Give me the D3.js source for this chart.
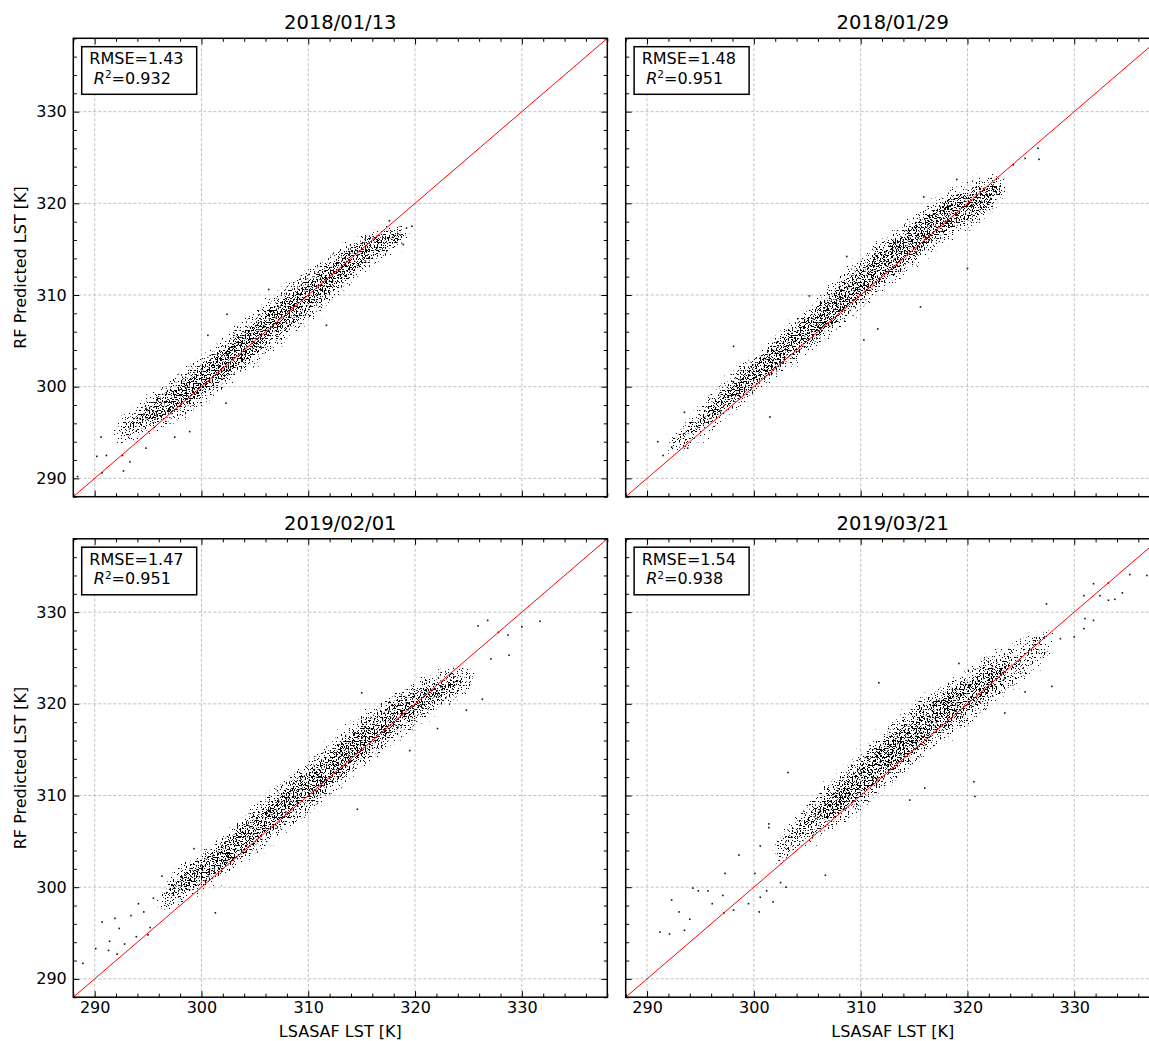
<!DOCTYPE html>
<html>
<head>
<meta charset="utf-8">
<script src="https://cdn.jsdelivr.net/npm/d3@7"></script>
<style>
  body { margin: 0; background: #fff; }
  svg { display: block; font-family: 'DejaVu Sans', sans-serif; }
</style>
</head>
<body>
<svg id="chart" width="1149" height="1041"></svg>
<script>
// ---- data ----
const titles = ['2018/01/13', '2018/01/29', '2019/02/01', '2019/03/21']
const rmse = [1.43, 1.48, 1.47, 1.54]
const r2 = [0.932, 0.951, 0.951, 0.938]
const majorTicks = [290, 300, 310, 320, 330]
const minorTicks = [288, 292, 294, 296, 298, 302, 304, 306, 308, 312, 314, 316, 318, 322, 324, 326, 328, 332, 334, 336, 338]
const domain = [288, 338]

// point cloud: band centre (mid) and half widths (outer = whole cloud, inner = dense core), per LSASAF bin
const p1X     = [292, 294, 296, 298, 300, 302, 304, 306, 308, 310, 312, 314, 316, 318, 319.5]
const p1Mid   = [295, 296.2, 297.6, 299, 300.6, 302.5, 304.4, 306.3, 308.2, 309.9, 311.8, 313.8, 315.2, 316.2, 316.8]
const p1Outer = [1.2, 2, 2.2, 2.5, 2.7, 2.7, 2.7, 3, 3, 3, 2.5, 2.5, 2, 1.3, 0.8]
const p1Inner = [0, 0.6, 1.2, 1.5, 1.6, 1.7, 1.8, 1.8, 1.8, 1.8, 1.6, 1.5, 1.2, 0.6, 0]
const p1Stray = [[288.4, 290.2], [290.2, 292.4], [290.6, 294.5], [290.7, 290.6], [291.1, 292.5], [292.6, 292.5],
  [292.7, 290.8], [293.3, 291.8], [294.8, 293.3], [297.5, 294.5], [298.9, 295.1], [300.6, 305.6], [302.4, 307.9],
  [302.3, 298.2], [306.3, 310.6], [311.7, 306.7], [318.9, 315.5], [319.7, 317.5], [319.2, 317.3], [317.6, 318.1]]

const p2X     = [292, 294, 296, 298, 300, 302, 304, 306, 308, 310, 312, 314, 316, 318, 320, 322, 323.5]
const p2Mid   = [293.2, 295, 297.2, 299.4, 301.3, 303.3, 305.1, 307.2, 309.2, 311.3, 313.2, 315, 316.9, 318.7, 319.7, 320.7, 322]
const p2Outer = [1, 1.5, 2, 2.3, 2, 2.2, 2.5, 2.5, 2.8, 2.9, 2.8, 2.9, 2.7, 2.7, 2.5, 2.5, 1]
const p2Inner = [0, 0.3, 0.8, 1.2, 1.3, 1.5, 1.6, 1.6, 1.7, 1.8, 1.8, 1.8, 1.7, 1.7, 1.6, 1.2, 0]
const p2Stray = [[291, 294], [291.5, 292.5], [292.3, 293.4], [293.5, 297.2], [293.8, 293.3], [298.1, 304.4],
  [301.5, 296.7], [305.2, 309.9], [308.7, 314.2], [310.3, 305.1], [311.6, 306.3], [315.6, 308.7], [315.9, 320.7],
  [319, 322.6], [320, 312.9], [324.3, 324.2], [325.4, 324.9], [326.6, 326], [326.7, 324.8]]

const p3X     = [296, 298, 300, 302, 304, 306, 308, 310, 312, 314, 316, 318, 320, 322, 324, 325.5]
const p3Mid   = [298.2, 300.5, 301.5, 303.4, 305.2, 307.2, 309.1, 310.9, 312.7, 314.9, 316.7, 318.4, 320, 321.4, 322.5, 323]
const p3Outer = [1.2, 2.2, 2.1, 2.3, 2.7, 2.6, 2.9, 2.9, 2.9, 2.9, 2.9, 2.7, 2.5, 2.2, 1.8, 1]
const p3Inner = [0, 1, 1.3, 1.5, 1.6, 1.6, 1.7, 1.7, 1.8, 1.8, 1.8, 1.6, 1.4, 1, 0.3, 0]
const p3Stray = [[288.9, 291.7], [290.1, 293.3], [290.7, 296.2], [291.3, 293.1], [291.4, 294.1], [292.3, 295.5],
  [292.8, 293.8], [293.4, 296.9], [293.9, 294.6], [294.6, 297.3], [295.2, 295.6], [294.1, 298.2], [295.5, 298.8],
  [295, 294.8], [292.1, 292.7], [291.9, 296.6], [296.3, 301.2], [299.3, 304.2], [301.3, 297.2], [314.6, 308.5],
  [315, 321.2], [319.5, 314.9], [322.1, 317.3], [324.8, 319.3], [325.9, 328.5], [326.3, 320.5], [326.8, 329.1],
  [327.1, 324.9], [327.8, 327.8], [328.7, 327.5], [328.8, 325.3], [330, 328.4], [331.7, 329]]

const p4X     = [302, 304, 306, 308, 310, 312, 314, 316, 318, 320, 322, 324, 326, 328]
const p4Mid   = [303.6, 305.8, 308, 309.5, 311.6, 313.8, 315.6, 317.8, 319.3, 320.5, 322.6, 324, 325.3, 327]
const p4Outer = [1.6, 1.8, 2.5, 2.8, 3.2, 3.2, 3.4, 3.3, 3, 3, 3, 2.2, 2.3, 1.3]
const p4Inner = [0, 0.5, 1.2, 1.5, 1.8, 1.9, 2, 2, 2, 1.9, 1.4, 0.6, 0, 0]
const p4Stray = [[291.2, 295.1], [292.1, 294.9], [292.3, 298.6], [293, 297.3], [293.5, 295.3], [294, 296.5],
  [294.3, 299.9], [294.8, 299.6], [295.7, 299.6], [296.1, 298.2], [297.1, 299.1], [297.2, 297.2], [297.3, 301.5],
  [298.1, 297.5], [298.6, 303.5], [299.5, 298.2], [300.1, 301.5], [300.6, 298.9], [300.5, 297.3], [301.2, 299.6],
  [301.8, 298.4], [301.4, 306.9], [301.4, 306.5], [300.6, 304.5], [302.5, 300.5], [303, 300], [306.7, 301.3],
  [303.2, 312.5], [311.7, 322.3], [327.4, 330.9], [320.6, 311.5], [320.7, 309.9], [314.6, 309.5], [316, 310.8],
  [327.9, 321.9], [335.2, 334.1], [336.8, 334], [333.2, 333.2], [334.5, 332.1], [333.2, 331.3], [331.8, 333.1],
  [330.9, 331.8], [331, 329.3], [331.8, 329.1], [330.9, 328.2], [333.8, 331.4], [332.4, 331.8], [328.7, 327.1],
  [330, 327.3], [319.2, 324.4], [323.5, 319], [325.4, 321.3]]

const panels = [
  { x: p1X, mid: p1Mid, outer: p1Outer, inner: p1Inner, stray: p1Stray },
  { x: p2X, mid: p2Mid, outer: p2Outer, inner: p2Inner, stray: p2Stray },
  { x: p3X, mid: p3Mid, outer: p3Outer, inner: p3Inner, stray: p3Stray },
  { x: p4X, mid: p4Mid, outer: p4Outer, inner: p4Inner, stray: p4Stray }
]

// ---- layout ----
const W = 534
const H = 458.4
const origins = [[73.3, 38.3], [625.7, 38.3], [73.3, 538.8], [625.7, 538.8]]
const fontTick = 16

const svg = d3.select('#chart')
const defs = svg.append('defs')

// speckle texture used to render the dense scatter cloud;
// noise * blurred shape alpha, so speckles thin out towards the band edges
const addStipple = (id, seed, cut, soften, edge) => {
  const f = defs.append('filter')
    .attr('id', id)
    .attr('filterUnits', 'userSpaceOnUse')
    .attr('x', -100).attr('y', -100).attr('width', 1400).attr('height', 1200)
    .attr('color-interpolation-filters', 'sRGB')
  f.append('feGaussianBlur')
    .attr('in', 'SourceAlpha')
    .attr('stdDeviation', soften)
    .attr('result', 'soft')
  f.append('feTurbulence')
    .attr('type', 'fractalNoise')
    .attr('baseFrequency', 0.75)
    .attr('numOctaves', 1)
    .attr('seed', seed)
    .attr('result', 'noise')
  f.append('feColorMatrix')
    .attr('in', 'noise')
    .attr('type', 'matrix')
    .attr('values', '0 0 0 0 0  0 0 0 0 0  0 0 0 0 0  1 0 0 0 0')
    .attr('result', 'n')
  f.append('feComposite')
    .attr('in', 'n')
    .attr('in2', 'soft')
    .attr('operator', 'arithmetic')
    .attr('k1', 1).attr('k2', 0).attr('k3', edge - cut).attr('k4', -edge)
    .attr('result', 'v')
  f.append('feComponentTransfer')
    .attr('in', 'v')
    .append('feFuncA')
    .attr('type', 'linear')
    .attr('slope', 40)
    .attr('intercept', 0)
}
addStipple('halo', 23, 0.69, 8, 0.02)
addStipple('sparse', 3, 0.615, 4, 0.07)
addStipple('dense', 11, 0.55, 3, 0.07)

panels.forEach((p, i) => {
  const [ox, oy] = origins[i]
  const isLeft = i % 2 === 0
  const isBottom = i >= 2

  const x = d3.scaleLinear().domain(domain).range([0, W])
  const y = d3.scaleLinear().domain(domain).range([H, 0])

  const g = svg.append('g').attr('transform', `translate(${ox}, ${oy})`)

  defs.append('clipPath').attr('id', `clip${i}`)
    .append('rect').attr('width', W).attr('height', H)

  // grid
  const grid = g.append('g')
    .attr('stroke', '#b0b0b0')
    .attr('stroke-width', 0.8)
    .attr('stroke-dasharray', '3,2')
  grid.selectAll('.gx').data(majorTicks).join('line')
    .attr('x1', (d) => x(d)).attr('x2', (d) => x(d))
    .attr('y1', 0).attr('y2', H)
  grid.selectAll('.gy').data(majorTicks).join('line')
    .attr('x1', 0).attr('x2', W)
    .attr('y1', (d) => y(d)).attr('y2', (d) => y(d))

  const plot = g.append('g').attr('clip-path', `url(#clip${i})`)

  const rows = p.x.map((v, k) => ({ x: v, mid: p.mid[k], outer: p.outer[k], inner: p.inner[k] }))

  const outerArea = d3.area()
    .x((d) => x(d.x))
    .y0((d) => y(d.mid - d.outer))
    .y1((d) => y(d.mid + d.outer))
    .curve(d3.curveBasis)
  const innerArea = d3.area()
    .x((d) => x(d.x))
    .y0((d) => y(d.mid - d.inner))
    .y1((d) => y(d.mid + d.inner))
    .curve(d3.curveBasis)

  plot.append('path').datum(rows)
    .attr('d', outerArea)
    .attr('fill', '#000')
    .attr('filter', 'url(#halo)')
  plot.append('path').datum(rows)
    .attr('d', outerArea)
    .attr('fill', '#000')
    .attr('filter', 'url(#sparse)')
  plot.append('path').datum(rows)
    .attr('d', innerArea)
    .attr('fill', '#000')
    .attr('filter', 'url(#dense)')

  plot.selectAll('.stray').data(p.stray).join('rect')
    .attr('class', 'stray')
    .attr('x', (d) => x(d[0]) - 0.8)
    .attr('y', (d) => y(d[1]) - 0.8)
    .attr('width', 1.6)
    .attr('height', 1.6)
    .attr('fill', '#111')

  // 1:1 line
  plot.append('path')
    .datum(domain)
    .attr('d', d3.line().x((d) => x(d)).y((d) => y(d)))
    .attr('stroke', 'red')
    .attr('stroke-width', 1)
    .attr('fill', 'none')

  // ticks (inward, all sides)
  const styleAxis = (sel) => {
    sel.select('.domain').remove()
    sel.selectAll('.tick line').attr('stroke', '#000').attr('stroke-width', 1)
    sel.selectAll('.tick text')
      .attr('fill', '#000')
      .style('font-family', "'DejaVu Sans', sans-serif")
      .style('font-size', `${fontTick}px`)
  }
  const blank = () => ''

  g.append('g').attr('transform', `translate(0, ${H})`)
    .call(d3.axisBottom(x).tickValues(majorTicks).tickSize(-6).tickPadding(4)
      .tickFormat(isBottom ? d3.format('d') : blank))
    .call(styleAxis)
  g.append('g').attr('transform', `translate(0, ${H})`)
    .call(d3.axisBottom(x).tickValues(minorTicks).tickSize(-3.5).tickFormat(blank))
    .call(styleAxis)
  g.append('g')
    .call(d3.axisTop(x).tickValues(majorTicks).tickSize(-6).tickFormat(blank))
    .call(styleAxis)
  g.append('g')
    .call(d3.axisTop(x).tickValues(minorTicks).tickSize(-3.5).tickFormat(blank))
    .call(styleAxis)
  g.append('g')
    .call(d3.axisLeft(y).tickValues(majorTicks).tickSize(-6).tickPadding(6.5)
      .tickFormat(isLeft ? d3.format('d') : blank))
    .call(styleAxis)
  g.append('g')
    .call(d3.axisLeft(y).tickValues(minorTicks).tickSize(-3.5).tickFormat(blank))
    .call(styleAxis)
  g.append('g').attr('transform', `translate(${W}, 0)`)
    .call(d3.axisRight(y).tickValues(majorTicks).tickSize(-6).tickFormat(blank))
    .call(styleAxis)
  g.append('g').attr('transform', `translate(${W}, 0)`)
    .call(d3.axisRight(y).tickValues(minorTicks).tickSize(-3.5).tickFormat(blank))
    .call(styleAxis)

  // spines
  g.append('rect')
    .attr('width', W).attr('height', H)
    .attr('fill', 'none')
    .attr('stroke', '#000')
    .attr('stroke-width', 1.5)

  // title
  g.append('text')
    .attr('x', W / 2).attr('y', -9)
    .attr('text-anchor', 'middle')
    .style('font-size', '19.5px')
    .text(titles[i])

  // stats box
  g.append('rect')
    .attr('x', 8.4).attr('y', 8.4)
    .attr('width', 115).attr('height', 47.6)
    .attr('fill', '#fff')
    .attr('stroke', '#000')
    .attr('stroke-width', 1.5)
  g.append('text')
    .attr('x', 16).attr('y', 26)
    .style('font-size', '16px')
    .text(`RMSE=${rmse[i].toFixed(2)}`)
  const t2 = g.append('text')
    .attr('x', 20.5).attr('y', 45.5)
    .style('font-size', '16px')
  t2.append('tspan').style('font-style', 'italic').text('R')
  t2.append('tspan').attr('dy', -5.5).style('font-size', '10.5px').text('2')
  t2.append('tspan').attr('dy', 5.5).text(`=${r2[i].toFixed(3)}`)

  if (isLeft) {
    g.append('text')
      .attr('transform', `translate(${25.5 - ox}, ${H / 2}) rotate(-90)`)
      .attr('text-anchor', 'middle')
      .style('font-size', '16px')
      .text('RF Predicted LST [K]')
  }
  if (isBottom) {
    g.append('text')
      .attr('x', W / 2).attr('y', H + 40)
      .attr('text-anchor', 'middle')
      .style('font-size', '16px')
      .text('LSASAF LST [K]')
  }
})
</script>
</body>
</html>
